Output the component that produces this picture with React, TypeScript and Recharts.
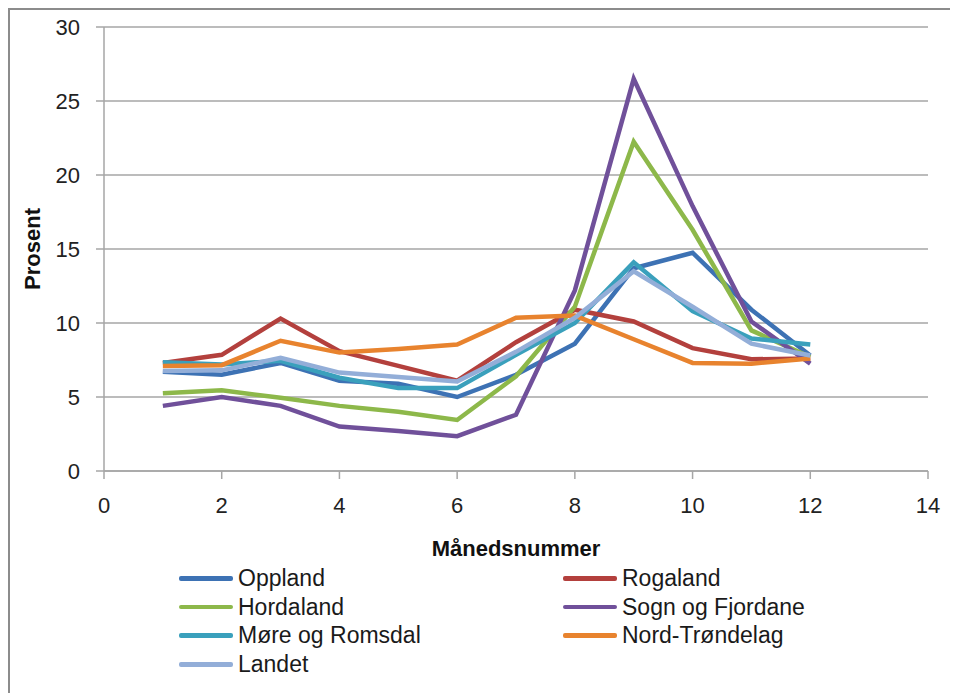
import React from 'react';
import { LineChart, Line, XAxis, YAxis, CartesianGrid } from 'recharts';

const months = [1, 2, 3, 4, 5, 6, 7, 8, 9, 10, 11, 12];

const oppland = [6.7, 6.5, 7.3, 6.1, 5.9, 5.0, 6.5, 8.6, 13.7, 14.75, 10.9, 7.8];
const rogaland = [7.3, 7.85, 10.3, 8.1, 7.1, 6.1, 8.7, 10.9, 10.1, 8.3, 7.55, 7.6];
const hordaland = [5.25, 5.45, 4.95, 4.4, 4.0, 3.45, 6.4, 11.1, 22.25, 16.3, 9.5, 7.7];
const sognOgFjordane = [4.4, 5.0, 4.4, 3.0, 2.7, 2.35, 3.8, 12.2, 26.5, 17.9, 10.1, 7.25];
const moreOgRomsdal = [7.35, 7.2, 7.45, 6.3, 5.6, 5.6, 7.85, 10.0, 14.1, 10.8, 8.95, 8.55];
const nordTrondelag = [7.1, 7.15, 8.8, 8.0, 8.25, 8.55, 10.35, 10.5, 8.9, 7.3, 7.25, 7.6];
const landet = [6.75, 6.8, 7.65, 6.65, 6.35, 6.05, 8.05, 10.35, 13.5, 11.1, 8.6, 7.8];

const xTicks = [0, 2, 4, 6, 8, 10, 12, 14];
const yTicks = [0, 5, 10, 15, 20, 25, 30];

const series = [
  { key: 'oppland', name: 'Oppland', color: '#3D72B4', values: oppland },
  { key: 'rogaland', name: 'Rogaland', color: '#B3403D', values: rogaland },
  { key: 'hordaland', name: 'Hordaland', color: '#8DB84A', values: hordaland },
  { key: 'sogn', name: 'Sogn og Fjordane', color: '#70509A', values: sognOgFjordane },
  { key: 'more', name: 'Møre og Romsdal', color: '#3AA0BC', values: moreOgRomsdal },
  { key: 'nord', name: 'Nord-Trøndelag', color: '#E8832E', values: nordTrondelag },
  { key: 'landet', name: 'Landet', color: '#93AED8', values: landet },
];

const data = months.map((m, i) => {
  const row: Record<string, number> = { month: m };
  series.forEach((s) => {
    row[s.key] = s.values[i];
  });
  return row;
});

const font = '"Liberation Sans", Arial, sans-serif';
const axisColor = '#a6a6a6';

// legend order: two columns, filled row by row
const legendLeft = [series[0], series[2], series[4], series[6]];
const legendRight = [series[1], series[3], series[5]];

function LegendColumn({ items, left }: { items: typeof series; left: number }) {
  return (
    <div style={{ position: 'absolute', left, top: 554 }}>
      {items.map((s) => (
        <div key={s.key} style={{ display: 'flex', alignItems: 'center', height: 28.7 }}>
          <div style={{ width: 54, height: 4.5, background: s.color, borderRadius: 2, marginRight: 5 }} />
          <span style={{ fontSize: 23, color: '#1a1a1a', fontFamily: font, whiteSpace: 'nowrap' }}>{s.name}</span>
        </div>
      ))}
    </div>
  );
}

export default function App() {
  return (
    <div
      style={{
        position: 'relative',
        width: 950,
        height: 685,
        borderLeft: '2px solid #8c8c8c',
        borderTop: '2px solid #8c8c8c',
        boxSizing: 'border-box',
        background: '#fff',
        fontFamily: font,
      }}
    >
      <LineChart width={938} height={562} data={data} margin={{ top: 17, right: 20, left: 0, bottom: 22 }}>
        <CartesianGrid vertical={false} stroke={axisColor} strokeWidth={1.5} />
        <XAxis
          dataKey="month"
          type="number"
          domain={[0, 14]}
          ticks={xTicks}
          height={79}
          tickSize={8}
          tickMargin={18}
          stroke={axisColor}
          strokeWidth={1.5}
          tick={{ fill: '#222', fontSize: 22, fontFamily: font }}
          label={{
            value: 'Månedsnummer',
            position: 'insideBottom',
            offset: -6,
            style: { fill: '#111', fontSize: 22, fontWeight: 'bold', fontFamily: font },
          }}
        />
        <YAxis
          type="number"
          domain={[0, 30]}
          ticks={yTicks}
          width={94}
          tickSize={8}
          tickMargin={16}
          stroke={axisColor}
          strokeWidth={1.5}
          tick={{ fill: '#222', fontSize: 22, fontFamily: font }}
          label={{
            value: 'Prosent',
            angle: -90,
            position: 'insideLeft',
            offset: 22,
            style: { textAnchor: 'middle', fill: '#111', fontSize: 22, fontWeight: 'bold', fontFamily: font },
          }}
        />
        {series.map((s) => (
          <Line
            key={s.key}
            dataKey={s.key}
            name={s.name}
            stroke={s.color}
            strokeWidth={4.5}
            dot={false}
            type="linear"
            isAnimationActive={false}
          />
        ))}
      </LineChart>
      <LegendColumn items={legendLeft} left={169} />
      <LegendColumn items={legendRight} left={553} />
    </div>
  );
}
